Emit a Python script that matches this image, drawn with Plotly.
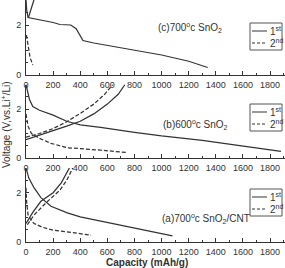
import plotly.graph_objects as go

# ---------------- data (capacity mAh/g, voltage V) ----------------
# (c) 700C SnO2 - top panel
c1_dis_cap = [0, 5, 15, 100, 200, 250, 330, 370, 395, 420, 500, 600, 800, 1000, 1200, 1340]
c1_dis_v   = [3.0, 2.6, 2.3, 2.22, 2.1, 2.02, 2.0, 1.85, 1.6, 1.38, 1.28, 1.18, 1.0, 0.8, 0.55, 0.3]
c1_chg_cap = [18, 30, 45, 60, 70]
c1_chg_v   = [2.3, 2.5, 2.75, 3.0, 3.2]
c2_dis_cap = [3, 15, 30, 50]
c2_dis_v   = [1.6, 1.1, 0.7, 0.4]

# (b) 600C SnO2 - middle panel
b1_dis_cap = [0, 10, 25, 50, 100, 200, 300, 400, 550, 800, 1000, 1300, 1600, 1880]
b1_dis_v   = [3.0, 2.8, 2.4, 2.1, 1.95, 1.75, 1.5, 1.35, 1.25, 1.05, 0.9, 0.72, 0.5, 0.27]
b1_chg_cap = [0, 100, 200, 300, 400, 500, 600, 680, 730]
b1_chg_v   = [0.75, 0.95, 1.12, 1.3, 1.5, 1.8, 2.2, 2.6, 3.0]
b2_dis_cap = [0, 15, 40, 100, 184, 305, 550, 750]
b2_dis_v   = [1.8, 1.3, 1.0, 0.8, 0.6, 0.42, 0.32, 0.22]
b2_chg_cap = [0, 100, 200, 300, 400, 500, 580, 640]
b2_chg_v   = [0.85, 1.0, 1.2, 1.48, 1.82, 2.2, 2.6, 3.0]

# (a) 700C SnO2/CNT - bottom panel
a1_dis_cap = [0, 20, 59, 110, 184, 305, 400, 550, 700, 870, 1080]
a1_dis_v   = [3.0, 2.6, 2.2, 1.8, 1.45, 1.18, 1.02, 0.85, 0.68, 0.5, 0.25]
a1_chg_cap = [0, 50, 110, 200, 260, 320]
a1_chg_v   = [0.75, 1.2, 1.65, 2.0, 2.4, 3.0]
a2_dis_cap = [0, 5, 15, 40, 60, 120, 200, 300, 400, 480]
a2_dis_v   = [2.2, 1.6, 1.1, 0.85, 0.75, 0.6, 0.48, 0.4, 0.33, 0.28]
a2_chg_cap = [10, 60, 150, 250, 300, 345]
a2_chg_v   = [0.7, 1.1, 1.6, 2.1, 2.5, 3.0]

x_ticks = [0, 200, 400, 600, 800, 1000, 1200, 1400, 1600, 1800]
y_ticks = [0, 2]
panel_labels = ["(c)700<sup>o</sup>c SnO<sub>2</sub>",
                "(b)600<sup>o</sup>c SnO<sub>2</sub>",
                "(a)700<sup>o</sup>c SnO<sub>2</sub>/CNT"]
legend_labels = ["1<sup>st</sup>", "2<sup>nd</sup>"]

# ---------------- layout helpers ----------------
W, H = 285, 268
L, R, T, B = 26, 0, 0, 26
PW, PH = W - L - R, H - T - B


def px(x):
    return (x - L) / PW


def py(y):
    return (H - B - y) / PH


FONT = "Liberation Sans Narrow, Liberation Sans, Arial"
LC = "#333333"

fig = go.Figure()

panels = [
    ("x", "y", [(c1_dis_cap, c1_dis_v, "solid"), (c1_chg_cap, c1_chg_v, "solid"),
                (c2_dis_cap, c2_dis_v, "dash")]),
    ("x2", "y2", [(b1_dis_cap, b1_dis_v, "solid"), (b1_chg_cap, b1_chg_v, "solid"),
                  (b2_dis_cap, b2_dis_v, "dash"), (b2_chg_cap, b2_chg_v, "dash")]),
    ("x3", "y3", [(a1_dis_cap, a1_dis_v, "solid"), (a1_chg_cap, a1_chg_v, "solid"),
                  (a2_dis_cap, a2_dis_v, "dash"), (a2_chg_cap, a2_chg_v, "dash")]),
]
for xa, ya, series in panels:
    for cap, v, dash in series:
        fig.add_trace(go.Scatter(x=cap, y=v, mode="lines", xaxis=xa, yaxis=ya,
                                 line=dict(color=LC, width=1.25,
                                           dash="4px,2px" if dash == "dash" else "solid"),
                                 showlegend=False, hoverinfo="skip"))

# panel pixel extents (top, bottom)
extents = [(0, 75), (84.5, 158), (168, 242)]
names = [("xaxis", "yaxis"), ("xaxis2", "yaxis2"), ("xaxis3", "yaxis3")]
anchors = [("y", "x"), ("y2", "x2"), ("y3", "x3")]
lay = {}
for (xn, yn), (ya, xa), (top, bot) in zip(names, anchors, extents):
    lay[xn] = dict(domain=[0, 1], anchor=ya, range=[0, 1910],
                   tickvals=x_ticks, ticks="inside", ticklen=4, tickcolor=LC,
                   showline=True, linecolor=LC, linewidth=1, showgrid=False,
                   zeroline=False, tickfont=dict(family=FONT, size=9, color="#333"),
                   minor=dict(dtick=100, tick0=0, ticks="inside", ticklen=2, tickcolor=LC),
                   ticklabelstandoff=1)
    lay[yn] = dict(domain=[py(bot), py(top)], anchor=xa, range=[0, 3],
                   tickvals=y_ticks, ticks="inside", ticklen=3, tickcolor=LC,
                   showline=True, linecolor=LC, linewidth=1, showgrid=False,
                   zeroline=False, tickfont=dict(family=FONT, size=9, color="#333"),
                   minor=dict(dtick=0.5, tick0=0, ticks="inside", ticklen=2, tickcolor=LC),
                   ticklabelstandoff=2)

annotations = []
shapes = []
label_pos = [(190, 28), (195, 125), (206, 218)]
legend_boxes = [(250, 23), (250, 104), (250, 189)]
for (lx, ly), txt in zip(label_pos, panel_labels):
    annotations.append(dict(x=px(lx), y=py(ly), xref="paper", yref="paper", text=txt,
                            showarrow=False, font=dict(family=FONT, size=10, color="#333"),
                            xanchor="center", yanchor="middle"))
for bx, by in legend_boxes:
    bw, bh = 32, 27
    shapes.append(dict(type="rect", xref="paper", yref="paper",
                       x0=px(bx), x1=px(bx + bw), y0=py(by + bh), y1=py(by),
                       line=dict(color="#555", width=1), fillcolor="white"))
    for i, (lbl, dash) in enumerate(zip(legend_labels, ["solid", "3px,2px"])):
        yy = by + 8 + i * 12
        shapes.append(dict(type="line", xref="paper", yref="paper",
                           x0=px(bx + 2), x1=px(bx + 17), y0=py(yy), y1=py(yy),
                           line=dict(color=LC, width=1, dash=dash)))
        annotations.append(dict(x=px(bx + 18), y=py(yy), xref="paper", yref="paper",
                                text=lbl, showarrow=False, xanchor="left", yanchor="middle",
                                font=dict(family=FONT, size=10, color="#333")))

annotations.append(dict(x=px(6), y=py(125), xref="paper", yref="paper",
                        text="Voltage (V,vs.Li<sup>+</sup>/Li)", textangle=-90,
                        showarrow=False, xanchor="center", yanchor="middle",
                        font=dict(family=FONT, size=10, color="#333")))
annotations.append(dict(x=px(147), y=py(262), xref="paper", yref="paper",
                        text="<b>Capacity (mAh/g)</b>", showarrow=False,
                        xanchor="center", yanchor="middle",
                        font=dict(family=FONT, size=10, color="#333")))

fig.update_layout(width=W, height=H, margin=dict(l=L, r=R, t=T, b=B),
                  plot_bgcolor="white", paper_bgcolor="white",
                  annotations=annotations, shapes=shapes, showlegend=False, **lay)

fig.write_html("out.html")
